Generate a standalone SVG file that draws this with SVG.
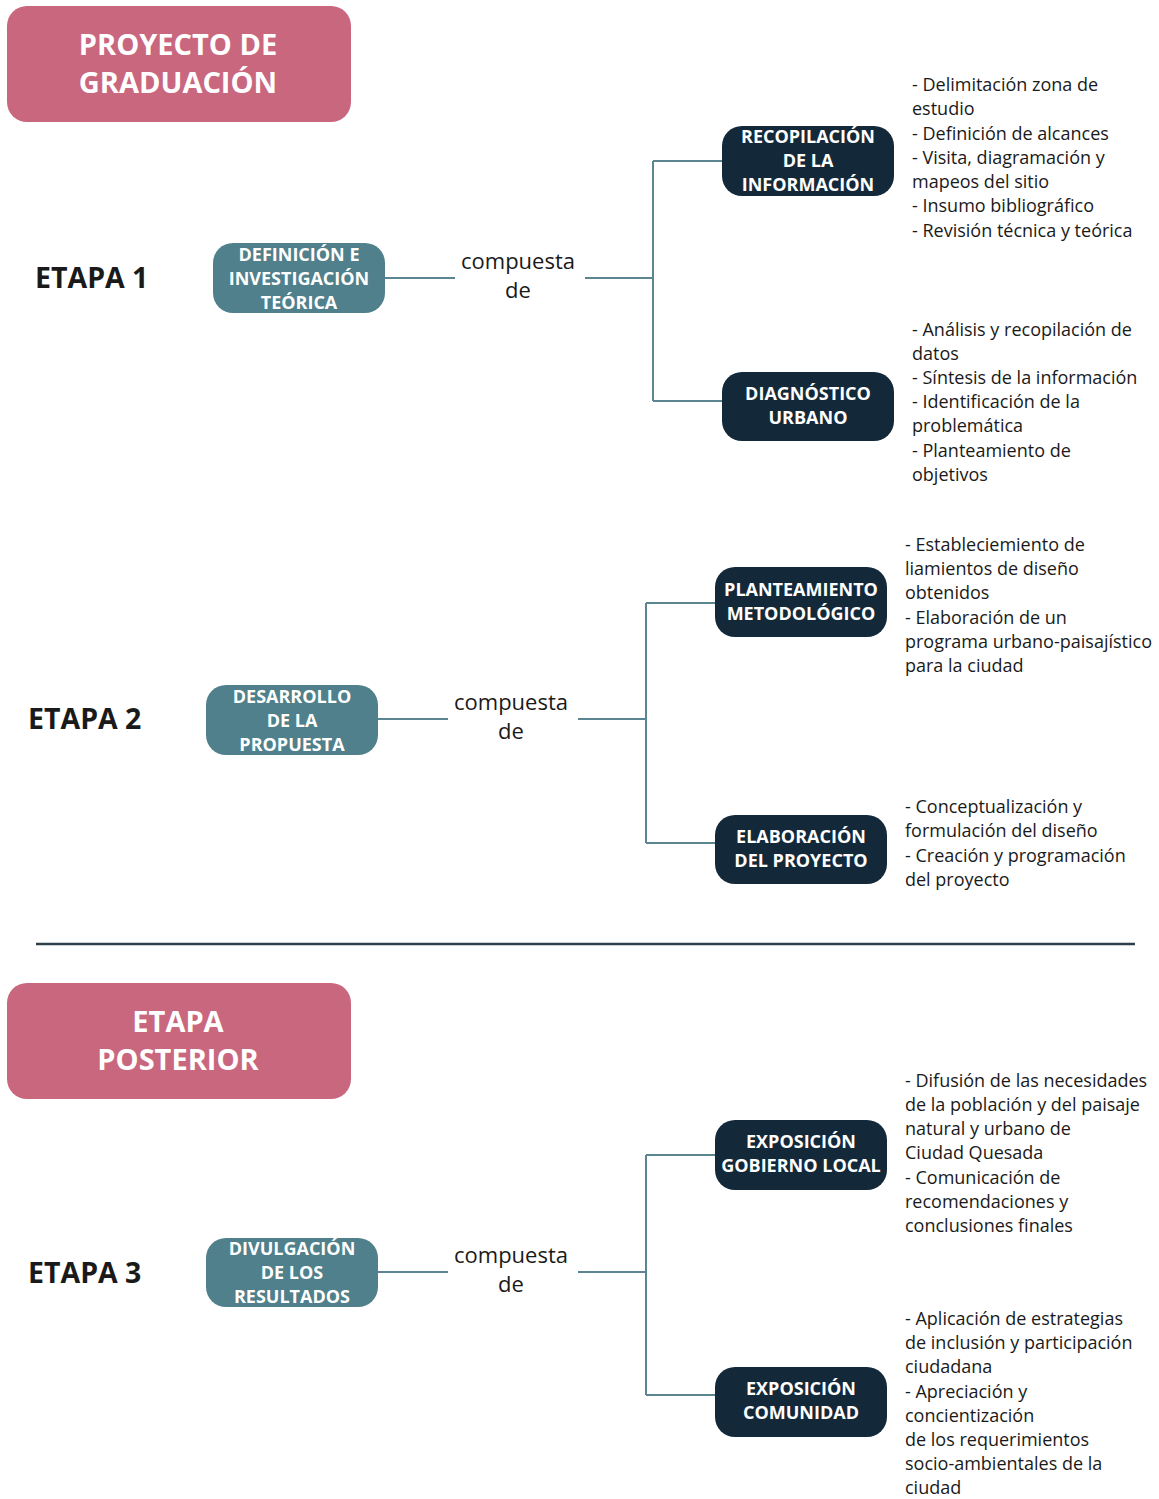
<svg xmlns="http://www.w3.org/2000/svg" width="1159" height="1499" viewBox="0 0 1159 1499">
<style>
.pink{fill:#c9677f}
.teal{fill:#4f808b}
.dark{fill:#13293a}
.ttl{font-family:"Open Sans","Liberation Sans",sans-serif;font-weight:700;font-size:29px;fill:#fff;text-anchor:middle}
.nt{font-family:"Open Sans","Liberation Sans",sans-serif;font-weight:700;font-size:18px;fill:#fff;text-anchor:middle}
.et{font-family:"Open Sans","Liberation Sans",sans-serif;font-weight:700;font-size:28.5px;fill:#1a1a1a}
.cd{font-family:"Open Sans","Liberation Sans",sans-serif;font-size:22px;fill:#1a1a1a;text-anchor:middle}
.ls{font-family:"Open Sans","Liberation Sans",sans-serif;font-size:18px;fill:#1a1a1a}
.ln{stroke:#5b8590;stroke-width:2;fill:none}
</style>
<rect width="1159" height="1499" fill="#fff"/>
<g id="title">
<rect class="pink" x="7" y="6" width="344" height="116" rx="20"/>
<text class="ttl" x="178" y="55">PROYECTO DE</text>
<text class="ttl" x="178" y="93">GRADUACIÓN</text>
</g>
<g id="etapa1"><text class="et" x="35" y="288">ETAPA 1</text></g>
<g id="etapa2"><text class="et" x="28" y="729">ETAPA 2</text></g>
<g id="etapa3"><text class="et" x="28" y="1283">ETAPA 3</text></g>
<g id="connectors">
<path class="ln" d="M385 278H455M585 278H653M653 161V401M653 161H723M653 401H723"/>
<path class="ln" d="M378 719H448M578 719H646M646 603V843M646 603H716M646 843H716"/>
<path class="ln" d="M378 1272H448M578 1272H646M646 1155V1395M646 1155H716M646 1395H716"/>
</g>
<g id="compuesta1"><text class="cd" x="518" y="269">compuesta</text><text class="cd" x="518" y="298">de</text></g>
<g id="compuesta2"><text class="cd" x="511" y="710">compuesta</text><text class="cd" x="511" y="739">de</text></g>
<g id="compuesta3"><text class="cd" x="511" y="1263">compuesta</text><text class="cd" x="511" y="1292">de</text></g>
<g id="definicion">
<rect class="teal" x="213" y="243" width="172" height="70" rx="20"/>
<text class="nt" x="299" y="261">DEFINICIÓN E</text>
<text class="nt" x="299" y="285">INVESTIGACIÓN</text>
<text class="nt" x="299" y="309">TEÓRICA</text>
</g>
<g id="recopilacion">
<rect class="dark" x="722" y="126" width="172" height="70" rx="20"/>
<text class="nt" x="808" y="143">RECOPILACIÓN</text>
<text class="nt" x="808" y="167">DE LA</text>
<text class="nt" x="808" y="191">INFORMACIÓN</text>
</g>
<g id="diagnostico">
<rect class="dark" x="722" y="372" width="172" height="69" rx="20"/>
<text class="nt" x="808" y="400">DIAGNÓSTICO</text>
<text class="nt" x="808" y="424">URBANO</text>
</g>
<g id="list1" class="ls">
<text x="912" y="91">- Delimitación zona de</text>
<text x="912" y="115">estudio</text>
<text x="912" y="140">- Definición de alcances</text>
<text x="912" y="164">- Visita, diagramación y</text>
<text x="912" y="188">mapeos del sitio</text>
<text x="912" y="212">- Insumo bibliográfico</text>
<text x="912" y="237">- Revisión técnica y teórica</text>
</g>
<g id="list2" class="ls">
<text x="912" y="336">- Análisis y recopilación de</text>
<text x="912" y="360">datos</text>
<text x="912" y="384">- Síntesis de la información</text>
<text x="912" y="408">- Identificación de la</text>
<text x="912" y="432">problemática</text>
<text x="912" y="457">- Planteamiento de</text>
<text x="912" y="481">objetivos</text>
</g>
<g id="desarrollo">
<rect class="teal" x="206" y="685" width="172" height="70" rx="20"/>
<text class="nt" x="292" y="703">DESARROLLO</text>
<text class="nt" x="292" y="727">DE LA</text>
<text class="nt" x="292" y="751">PROPUESTA</text>
</g>
<g id="planteamiento">
<rect class="dark" x="715" y="567" width="172" height="70" rx="20"/>
<text class="nt" x="801" y="596">PLANTEAMIENTO</text>
<text class="nt" x="801" y="620">METODOLÓGICO</text>
</g>
<g id="elaboracion">
<rect class="dark" x="715" y="815" width="172" height="69" rx="20"/>
<text class="nt" x="801" y="843">ELABORACIÓN</text>
<text class="nt" x="801" y="867">DEL PROYECTO</text>
</g>
<g id="list3" class="ls">
<text x="905" y="551">- Estableciemiento de</text>
<text x="905" y="575">liamientos de diseño</text>
<text x="905" y="599">obtenidos</text>
<text x="905" y="624">- Elaboración de un</text>
<text x="905" y="648">programa urbano-paisajístico</text>
<text x="905" y="672">para la ciudad</text>
</g>
<g id="list4" class="ls">
<text x="905" y="813">- Conceptualización y</text>
<text x="905" y="837">formulación del diseño</text>
<text x="905" y="862">- Creación y programación</text>
<text x="905" y="886">del proyecto</text>
</g>
<line x1="36" y1="944" x2="1135" y2="944" stroke="#2b3e4a" stroke-width="2.5"/>
<g id="posterior">
<rect class="pink" x="7" y="983" width="344" height="116" rx="20"/>
<text class="ttl" x="178" y="1032">ETAPA</text>
<text class="ttl" x="178" y="1070">POSTERIOR</text>
</g>
<g id="divulgacion">
<rect class="teal" x="206" y="1238" width="172" height="69" rx="20"/>
<text class="nt" x="292" y="1255">DIVULGACIÓN</text>
<text class="nt" x="292" y="1279">DE LOS</text>
<text class="nt" x="292" y="1303">RESULTADOS</text>
</g>
<g id="gobierno">
<rect class="dark" x="715" y="1120" width="172" height="70" rx="20"/>
<text class="nt" x="801" y="1148">EXPOSICIÓN</text>
<text class="nt" x="801" y="1172">GOBIERNO LOCAL</text>
</g>
<g id="comunidad">
<rect class="dark" x="715" y="1367" width="172" height="70" rx="20"/>
<text class="nt" x="801" y="1395">EXPOSICIÓN</text>
<text class="nt" x="801" y="1419">COMUNIDAD</text>
</g>
<g id="list5" class="ls">
<text x="905" y="1087">- Difusión de las necesidades</text>
<text x="905" y="1111">de la población y del paisaje</text>
<text x="905" y="1135">natural y urbano de</text>
<text x="905" y="1159">Ciudad Quesada</text>
<text x="905" y="1184">- Comunicación de</text>
<text x="905" y="1208">recomendaciones y</text>
<text x="905" y="1232">conclusiones finales</text>
</g>
<g id="list6" class="ls">
<text x="905" y="1325">- Aplicación de estrategias</text>
<text x="905" y="1349">de inclusión y participación</text>
<text x="905" y="1373">ciudadana</text>
<text x="905" y="1398">- Apreciación y</text>
<text x="905" y="1422">concientización</text>
<text x="905" y="1446">de los requerimientos</text>
<text x="905" y="1470">socio-ambientales de la</text>
<text x="905" y="1494">ciudad</text>
</g>
</svg>
